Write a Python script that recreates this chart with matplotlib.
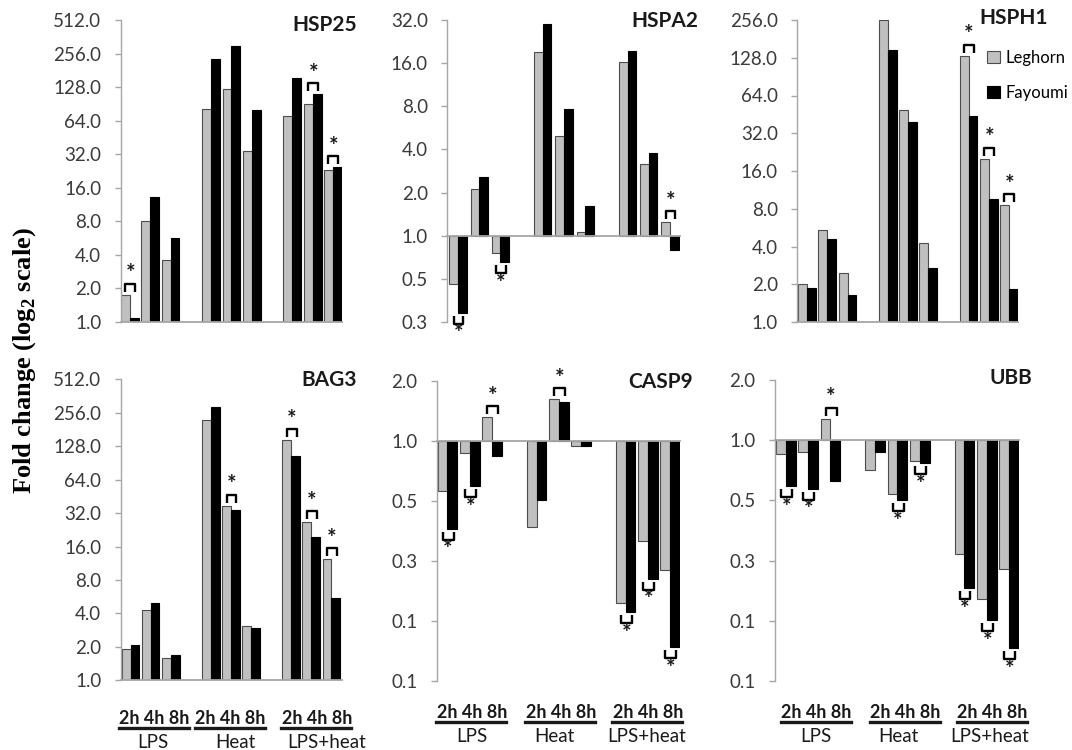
import matplotlib
matplotlib.use("Agg")
import matplotlib.pyplot as plt
from matplotlib.lines import Line2D

# ---------------- data ----------------
treatments = ["LPS", "Heat", "LPS+heat"]
times_label = "2h 4h 8h"
breeds = ["Leghorn", "Fayoumi"]
genes = ["HSP25", "HSPA2", "HSPH1", "BAG3", "CASP9", "UBB"]

# order: LPS 2h,4h,8h | Heat 2h,4h,8h | LPS+heat 2h,4h,8h
hsp25_leghorn = [1.75, 8.0, 3.6, 81, 124, 34, 71, 90, 23.2]
hsp25_fayoumi = [1.09, 13.1, 5.7, 229, 298, 80, 154, 110, 24.4]
hspa2_leghorn = [0.457, 2.11, 0.76, 19.2, 4.97, 1.07, 16.4, 3.18, 1.24]
hspa2_fayoumi = [0.29, 2.56, 0.655, 30.0, 7.6, 1.61, 19.5, 3.78, 0.79]
hsph1_leghorn = [2.01, 5.46, 2.45, 256, 49.3, 4.3, 133, 20.0, 8.5]
hsph1_fayoumi = [1.87, 4.6, 1.63, 148, 39.3, 2.7, 44, 9.55, 1.82]
bag3_leghorn = [1.93, 4.27, 1.6, 221, 37.4, 3.09, 145, 26.5, 12.3]
bag3_fayoumi = [2.08, 5.0, 1.68, 288, 34.1, 2.96, 105, 19.6, 5.47]
casp9_leghorn = [0.563, 0.864, 1.31, 0.371, 1.61, 0.94, 0.153, 0.314, 0.226]
casp9_fayoumi = [0.363, 0.593, 0.835, 0.504, 1.57, 0.94, 0.138, 0.203, 0.092]
ubb_leghorn = [0.854, 0.874, 1.28, 0.711, 0.539, 0.785, 0.27, 0.161, 0.227]
ubb_fayoumi = [0.588, 0.573, 0.625, 0.87, 0.502, 0.765, 0.182, 0.126, 0.091]

# significant differences (index in the 9-bar order)
hsp25_sig = [0, 7, 8]
hspa2_sig = [0, 2, 8]
hsph1_sig = [6, 7, 8]
bag3_sig = [4, 6, 7, 8]
casp9_sig = [0, 1, 2, 4, 6, 7, 8]
ubb_sig = [0, 1, 2, 4, 5, 6, 7, 8]

ticks_high512 = [1, 2, 4, 8, 16, 32, 64, 128, 256, 512]
labels_high512 = ["1.0", "2.0", "4.0", "8.0", "16.0", "32.0", "64.0", "128.0", "256.0", "512.0"]
ticks_hspa2 = [0.25, 0.5, 1, 2, 4, 8, 16, 32]
labels_hspa2 = ["0.3", "0.5", "1.0", "2.0", "4.0", "8.0", "16.0", "32.0"]
ticks_hsph1 = [1, 2, 4, 8, 16, 32, 64, 128, 256]
labels_hsph1 = ["1.0", "2.0", "4.0", "8.0", "16.0", "32.0", "64.0", "128.0", "256.0"]
ticks_low = [0.0625, 0.125, 0.25, 0.5, 1, 2]
labels_low = ["0.1", "0.1", "0.3", "0.5", "1.0", "2.0"]

# ---------------- style / layout ----------------
W, H = 1072, 750
GRAY = "#c0c0c0"
AXIS_GRAY = "#a6a6a6"
TICK_COLOR = "#3a3a3a"
plt.rcParams["font.family"] = ["Lato", "DejaVu Sans"]
plt.rcParams["mathtext.fontset"] = "custom"
plt.rcParams["mathtext.rm"] = "Liberation Serif:bold"
plt.rcParams["mathtext.bf"] = "Liberation Serif:bold"

fig = plt.figure(figsize=(W / 100, H / 100), dpi=100)

# panel geometry in pixels: axis_x, slot, first bar left, right end, top, bottom, bar width
panels = [
    dict(gene=genes[0], leg=hsp25_leghorn, fay=hsp25_fayoumi, sig=hsp25_sig,
         ticks=ticks_high512, labels=labels_high512,
         ax_x=120.7, slot=20.3, b0=121.0, right=341.5, top=20, bottom=322, w=0.44,
         title_xy=(357, 25)),
    dict(gene=genes[1], leg=hspa2_leghorn, fay=hspa2_fayoumi, sig=hspa2_sig,
         ticks=ticks_hspa2, labels=labels_hspa2,
         ax_x=447.3, slot=21.2, b0=449.3, right=680.0, top=20, bottom=322, w=0.41,
         title_xy=(698, 21)),
    dict(gene=genes[2], leg=hsph1_leghorn, fay=hsph1_fayoumi, sig=hsph1_sig,
         ticks=ticks_hsph1, labels=labels_hsph1,
         ax_x=797.3, slot=20.17, b0=798.3, right=1018.3, top=20, bottom=322, w=0.44,
         title_xy=(1048, 18)),
    dict(gene=genes[3], leg=bag3_leghorn, fay=bag3_fayoumi, sig=bag3_sig,
         ticks=ticks_high512, labels=labels_high512,
         ax_x=120.7, slot=20.08, b0=121.7, right=341.7, top=379.3, bottom=680.3, w=0.44,
         title_xy=(357, 380)),
    dict(gene=genes[4], leg=casp9_leghorn, fay=casp9_fayoumi, sig=casp9_sig,
         ticks=ticks_low, labels=labels_low,
         ax_x=436.7, slot=22.27, b0=437.7, right=680.3, top=380.7, bottom=681, w=0.44,
         title_xy=(693, 382)),
    dict(gene=genes[5], leg=ubb_leghorn, fay=ubb_fayoumi, sig=ubb_sig,
         ticks=ticks_low, labels=labels_low,
         ax_x=775.0, slot=22.33, b0=776.0, right=1019.0, top=380, bottom=681, w=0.44,
         title_xy=(1032, 378)),
]

legend_handles = None
for p in panels:
    ax = fig.add_axes([p["ax_x"] / W, 1 - p["bottom"] / H,
                       (p["right"] - p["ax_x"]) / W, (p["bottom"] - p["top"]) / H])
    w = p["w"]
    xl = -w - (p["b0"] - p["ax_x"]) / p["slot"]
    xr = xl + (p["right"] - p["ax_x"]) / p["slot"]
    ax.set_xlim(xl, xr)
    ax.set_yscale("log", base=2)
    ax.set_ylim(p["ticks"][0], p["ticks"][-1])
    ax.set_yticks(p["ticks"])
    ax.set_yticklabels(p["labels"])
    ax.minorticks_off()
    ax.set_xticks([])
    for s in ["top", "right", "bottom"]:
        ax.spines[s].set_visible(False)
    ax.spines["left"].set_color(AXIS_GRAY)
    ax.spines["left"].set_linewidth(1.0)
    ax.tick_params(axis="y", direction="out", length=4.5, width=1.0, color=AXIS_GRAY,
                   labelsize=13.5, labelcolor=TICK_COLOR, pad=9.5)
    ax.patch.set_alpha(0)

    xs = [g * 4 + t for g in range(3) for t in range(3)]
    leg_h = [v - 1 for v in p["leg"]]
    fay_h = [v - 1 for v in p["fay"]]
    b1 = ax.bar([x - w / 2 for x in xs], leg_h, width=w, bottom=1, color=GRAY,
                edgecolor="#4d4d4d", linewidth=0.8, label=breeds[0], zorder=2)
    b2 = ax.bar([x + w / 2 for x in xs], fay_h, width=w, bottom=1, color="black",
                edgecolor="black", linewidth=0.8, label=breeds[1], zorder=2)
    if p["gene"] == "HSPH1":
        legend_handles = [b1, b2]
    ax.axhline(1, color=AXIS_GRAY, lw=1.3, zorder=3, clip_on=False)

    # significance brackets
    inv = ax.transData.inverted()
    for i in p["sig"]:
        xc = xs[i]
        x0 = xc - w / 2
        x1 = xc + w / 2 + 0.05
        vmax = max(p["leg"][i], p["fay"][i])
        vmin = min(p["leg"][i], p["fay"][i])
        up = vmax > 1
        tip = vmax if up else vmin
        d = 1 if up else -1
        _, Y = ax.transData.transform((xc, tip))
        y_leg = inv.transform((0, Y + d * 3))[1]
        y_bar = inv.transform((0, Y + d * 11))[1]
        y_star = inv.transform((0, Y + d * 21))[1]
        ax.plot([x0, x0, x1, x1], [y_leg, y_bar, y_bar, y_leg], color="black",
                lw=1.7, solid_capstyle="butt", clip_on=False, zorder=4)
        ax.text((x0 + x1) / 2, y_star, "*", ha="center", va="center", fontsize=16,
                fontweight="bold", color="#1a1a1a", clip_on=False, zorder=4)

    tx, ty = p["title_xy"]
    fig.text(tx / W, 1 - ty / H, p["gene"], ha="right", va="center",
             fontsize=15, fontweight="bold", color="#1a1a1a")

# legend
fig.legend(handles=legend_handles, labels=breeds, loc="upper left",
           bbox_to_anchor=(987 / W, 1 - 50 / H), frameon=False, fontsize=12,
           handlelength=0.75, handleheight=0.75, handletextpad=0.35, labelspacing=1.15,
           borderpad=0, borderaxespad=0)

# y label
fig.text(25 / W, 1 - 361 / H, r"Fold change (log$_{2}$ scale)", rotation=90,
         ha="center", va="center", fontsize=19, fontweight="bold",
         family="Liberation Serif", color="black")

# x-group labels under bottom row
rows = [
    dict(centers=[154.5, 230.5, 317.0], names=[153, 235, 327], y_b=718, y_u=728, y_n=743),
    dict(centers=[472.0, 561.0, 648.0], names=[472, 554, 647], y_b=713, y_u=722, y_n=736),
    dict(centers=[816.5, 905.5, 992.5], names=[816, 898, 990], y_b=713, y_u=722, y_n=736),
]
for r in rows:
    for k in range(3):
        cx = r["centers"][k]
        fig.text(cx / W, 1 - r["y_b"] / H, times_label, ha="center", va="center",
                 fontsize=13, fontweight="bold", color="#1a1a1a")
        fig.add_artist(Line2D([(cx - 36) / W, (cx + 34) / W],
                              [1 - r["y_u"] / H, 1 - r["y_u"] / H],
                              color="#1a1a1a", lw=2.4, transform=fig.transFigure))
        fig.text(r["names"][k] / W, 1 - r["y_n"] / H, treatments[k], ha="center",
                 va="center", fontsize=13.5, color="#1a1a1a")

fig.savefig("out.png", dpi=100)
